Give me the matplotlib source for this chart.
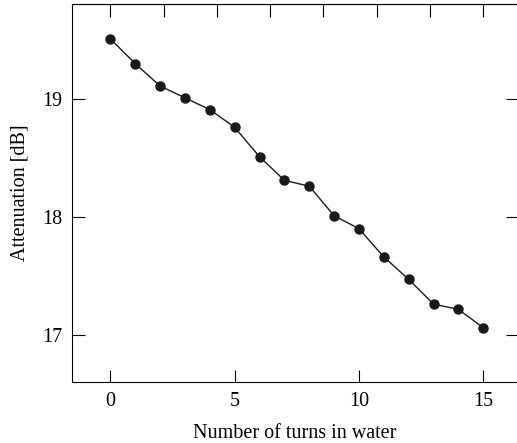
import matplotlib.pyplot as plt
import numpy as np

plt.rcParams['font.family'] = ['Liberation Serif', 'DejaVu Serif']
plt.rcParams['font.size'] = 14.5

# Attenuation vs number of turns
turns = [0, 1, 2, 3, 4, 5, 6, 7, 8, 9, 10, 11, 12, 13, 14, 15]
atten = [19.51, 19.30, 19.11, 19.01, 18.91, 18.76, 18.51, 18.31, 18.26,
         18.01, 17.90, 17.66, 17.47, 17.26, 17.215, 17.06]

fig = plt.figure(figsize=(5.17, 4.43), dpi=100)
ax = fig.add_axes([0.139, 0.138, 0.863, 0.854])

ax.plot(turns, atten, '-', color='#1a1a1a', linewidth=1.0,
        marker='o', markersize=6.5, markerfacecolor='#1a1a1a', markeredgecolor='#1a1a1a')

ax.set_xlim(-1.55, 16.40)
ax.set_ylim(16.6, 19.81)
ax.set_xticks([0, 5, 10, 15])
ax.set_yticks([17, 18, 19])
ax.set_xlabel('Number of turns in water', labelpad=10)
ax.set_ylabel('Attenuation [dB]', labelpad=9)
ax.tick_params(direction='in', length=9, width=0.8, which='major', pad=7)

# top axis has its own (odd) tick spacing, right axis mirrors left
top = ax.secondary_xaxis('top')
top.set_xticks(np.linspace(0, 15, 8))
top.tick_params(direction='in', length=9, width=0.8, labeltop=False)
right = ax.secondary_yaxis('right')
right.set_yticks([17, 18, 19])
right.tick_params(direction='in', length=9, width=0.8, labelright=False)

fig.savefig('out.png', dpi=100)
